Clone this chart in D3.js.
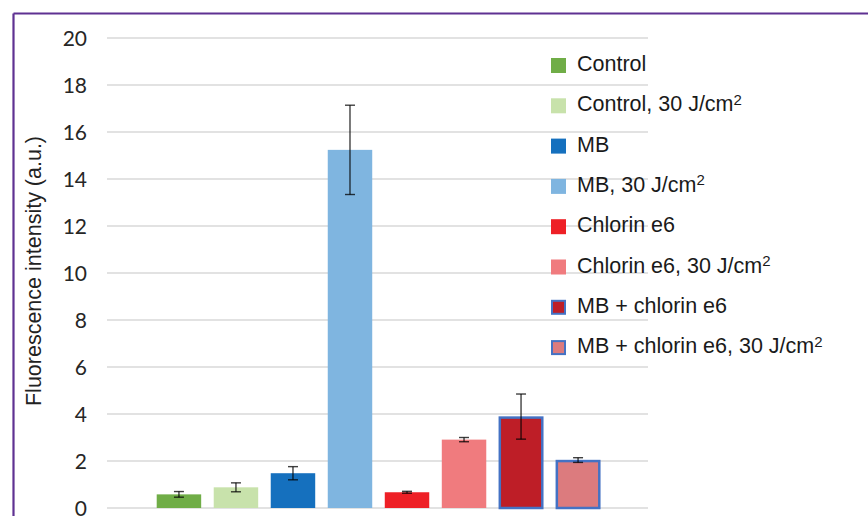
<!DOCTYPE html>
<html>
<head>
<meta charset="utf-8">
<script src="https://cdn.jsdelivr.net/npm/d3@7"></script>
<style>
  body { margin: 0; background: #fff; }
  svg { display: block; }
</style>
</head>
<body>
<div id="chart"></div>
<script>
// series (one category, 8 series like the Excel chart)
var seriesNames = ["Control", "Control, 30 J/cm", "MB", "MB, 30 J/cm", "Chlorin e6",
                   "Chlorin e6, 30 J/cm", "MB + chlorin e6", "MB + chlorin e6, 30 J/cm"];
var superscripts = ["", "2", "", "2", "", "2", "", "2"];
var values = [0.58, 0.88, 1.48, 15.24, 0.67, 2.91, 3.89, 2.04];
var errors = [0.12, 0.19, 0.28, 1.9, 0.04, 0.09, 0.96, 0.1];
var fills = ["#70ad47", "#c8e2ab", "#1570be", "#7fb5e0", "#ee2026", "#f07b7e", "#be1e27", "#dc7b7e"];
var outlined = [false, false, false, false, false, false, true, true];
var yTicks = [0, 2, 4, 6, 8, 10, 12, 14, 16, 18, 20];

var width = 868, height = 516;

var svg = d3.select("#chart").append("svg")
    .attr("width", width)
    .attr("height", height);

// purple frame (top + left only visible)
svg.append("line").attr("x1", 13.5).attr("x2", width).attr("y1", 13.5).attr("y2", 13.5)
   .attr("stroke", "#5f3192").attr("stroke-width", 2.2);
svg.append("line").attr("x1", 13.5).attr("x2", 13.5).attr("y1", 13.5).attr("y2", height)
   .attr("stroke", "#5f3192").attr("stroke-width", 2.2);

var y = d3.scaleLinear().domain([0, 20]).range([508, 38]);
var x = d3.scaleBand().domain(d3.range(values.length)).range([151, 606]).paddingInner(0.22).paddingOuter(0.1);

// gridlines
svg.append("g").selectAll("line")
   .data(yTicks).enter().append("line")
   .attr("x1", 107).attr("x2", 648)
   .attr("y1", function(d) { return y(d); })
   .attr("y2", function(d) { return y(d); })
   .attr("stroke", "#d9d9d9").attr("stroke-width", 1.3);

// tick labels
svg.append("g").selectAll("text")
   .data(yTicks).enter().append("text")
   .attr("x", 87)
   .attr("y", function(d) { return y(d); })
   .attr("dy", "0.36em")
   .attr("text-anchor", "end")
   .style("font-family", "Lato, 'Open Sans', sans-serif")
   .style("font-size", "21px")
   .style("fill", "#262626")
   .text(function(d) { return d; });

// y axis title
svg.append("text")
   .attr("transform", "translate(41,271) rotate(-90)")
   .attr("text-anchor", "middle")
   .style("font-family", "'Liberation Sans', Arial, sans-serif")
   .style("font-size", "21.5px")
   .style("fill", "#222")
   .text("Fluorescence intensity (a.u.)");

// bars
svg.append("g").selectAll("rect")
   .data(values).enter().append("rect")
   .attr("x", function(d, i) { return outlined[i] ? x(i) + 1 : x(i); })
   .attr("y", function(d, i) { return outlined[i] ? y(d) + 1 : y(d); })
   .attr("width", function(d, i) { return outlined[i] ? x.bandwidth() - 2 : x.bandwidth(); })
   .attr("height", function(d, i) { return y(0) - y(d) - (outlined[i] ? 1 : 0); })
   .attr("fill", function(d, i) { return fills[i]; })
   .attr("stroke", function(d, i) { return outlined[i] ? "#4472c4" : "none"; })
   .attr("stroke-width", 2.5);

// error bars
var eb = svg.append("g").attr("stroke", "#000").attr("stroke-opacity", 0.75).attr("stroke-width", 1.4);
values.forEach(function(v, i) {
  var cx = x(i) + x.bandwidth() / 2;
  var hi = y(v + errors[i]), lo = y(v - errors[i]);
  eb.append("line").attr("x1", cx).attr("x2", cx).attr("y1", hi).attr("y2", lo);
  eb.append("line").attr("x1", cx - 5).attr("x2", cx + 5).attr("y1", hi).attr("y2", hi);
  eb.append("line").attr("x1", cx - 5).attr("x2", cx + 5).attr("y1", lo).attr("y2", lo);
});

// legend
var legend = svg.append("g").selectAll("g")
   .data(seriesNames).enter().append("g")
   .attr("transform", function(d, i) { return "translate(551," + (66 + i * 40.3) + ")"; });

legend.append("rect")
   .attr("x", function(d, i) { return outlined[i] ? 1 : 0; })
   .attr("y", function(d, i) { return outlined[i] ? -7 : -8; })
   .attr("width", function(d, i) { return outlined[i] ? 13 : 15; })
   .attr("height", function(d, i) { return outlined[i] ? 13 : 15; })
   .attr("fill", function(d, i) { return fills[i]; })
   .attr("stroke", function(d, i) { return outlined[i] ? "#4472c4" : "none"; })
   .attr("stroke-width", 2);

var lt = legend.append("text")
   .attr("x", 26)
   .attr("y", 0)
   .attr("dy", "0.24em")
   .style("font-family", "'Liberation Sans', Arial, sans-serif")
   .style("font-size", "21.5px")
   .style("fill", "#1a1a1a")
   .text(function(d) { return d; });

lt.append("tspan")
   .attr("dy", "-0.45em")
   .style("font-size", "15px")
   .text(function(d, i) { return superscripts[i]; });
</script>
</body>
</html>
